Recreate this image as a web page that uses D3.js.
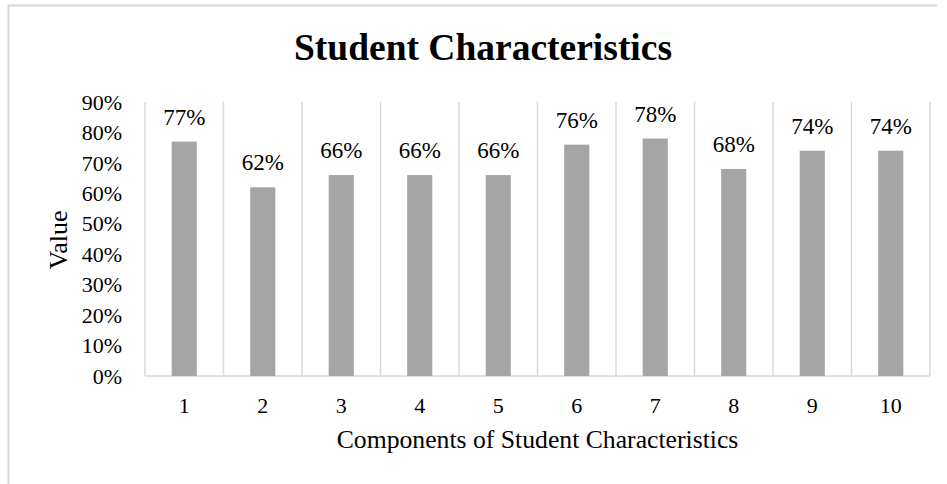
<!DOCTYPE html>
<html lang="en">
<head>
  <meta charset="UTF-8">
  <title>Student Characteristics</title>
  <script src="https://d3js.org/d3.v7.min.js"></script>
  <style>
    body { margin: 0; background: #fff; }
    text { font-family: "Liberation Serif", "Times New Roman", serif; fill: #000; }
  </style>
</head>
<body>
  <div id="chart"></div>
  <script>
  // chart values
  const categories = ['1', '2', '3', '4', '5', '6', '7', '8', '9', '10']
  const values = [0.77, 0.62, 0.66, 0.66, 0.66, 0.76, 0.78, 0.68, 0.74, 0.74]
  const yTicks = [0, 0.1, 0.2, 0.3, 0.4, 0.5, 0.6, 0.7, 0.8, 0.9]

  const W = 947, H = 484
  const plotL = 145, plotR = 930, plotT = 102, plotB = 376

  const svg = d3.select('#chart')
                .append('svg')
                .attr('width', W)
                .attr('height', H)

  // outer chart border (top + left visible)
  svg.append('path')
     .attr('d', `M8.5,${H + 5} V5.5 H937`)
     .attr('fill', 'none')
     .attr('stroke', '#d9d9d9')
     .attr('stroke-width', 2)

  const x = d3.scaleBand()
              .domain(categories)
              .range([plotL, plotR])
              .paddingInner(0.68)
              .paddingOuter(0.34)
  const y = d3.scaleLinear()
              .domain([0, 0.9])
              .range([plotB, plotT])

  // vertical gridlines at category boundaries
  const bounds = d3.range(categories.length + 1).map(i => plotL + i * x.step())
  svg.selectAll('line.grid')
     .data(bounds)
     .enter()
     .append('line')
     .attr('class', 'grid')
     .attr('x1', d => d).attr('x2', d => d)
     .attr('y1', plotT).attr('y2', plotB)
     .attr('stroke', '#d9d9d9')
     .attr('stroke-width', 1.5)

  // bottom axis line
  svg.append('line')
     .attr('x1', plotL).attr('x2', plotR)
     .attr('y1', plotB).attr('y2', plotB)
     .attr('stroke', '#d9d9d9')
     .attr('stroke-width', 1.5)

  // bars
  svg.selectAll('rect.bar')
     .data(values)
     .enter()
     .append('rect')
     .attr('class', 'bar')
     .attr('x', (d, i) => x(categories[i]))
     .attr('y', d => y(d))
     .attr('width', x.bandwidth())
     .attr('height', d => plotB - y(d))
     .attr('fill', '#a5a5a5')

  // data labels
  svg.selectAll('text.val')
     .data(values)
     .enter()
     .append('text')
     .attr('class', 'val')
     .attr('x', (d, i) => x(categories[i]) + x.bandwidth() / 2)
     .attr('y', d => y(d) - 17)
     .attr('text-anchor', 'middle')
     .style('font-size', '23px')
     .text(d => Math.round(d * 100) + '%')

  // y tick labels
  svg.selectAll('text.ytick')
     .data(yTicks)
     .enter()
     .append('text')
     .attr('class', 'ytick')
     .attr('x', 122)
     .attr('y', d => y(d))
     .attr('dy', '0.35em')
     .attr('text-anchor', 'end')
     .style('font-size', '22px')
     .text(d3.format('.0%'))

  // x tick labels
  svg.selectAll('text.xtick')
     .data(categories)
     .enter()
     .append('text')
     .attr('class', 'xtick')
     .attr('x', d => x(d) + x.bandwidth() / 2)
     .attr('y', 413)
     .attr('text-anchor', 'middle')
     .style('font-size', '22px')
     .text(d => d)

  // title
  svg.append('text')
     .attr('x', 483)
     .attr('y', 60)
     .attr('text-anchor', 'middle')
     .style('font-size', '37.5px')
     .style('font-weight', 'bold')
     .text('Student Characteristics')

  // axis titles
  svg.append('text')
     .attr('x', (plotL + plotR) / 2)
     .attr('y', 448)
     .attr('text-anchor', 'middle')
     .style('font-size', '25.7px')
     .text('Components of Student Characteristics')

  svg.append('text')
     .attr('transform', `translate(67, 240) rotate(-90)`)
     .attr('text-anchor', 'middle')
     .style('font-size', '26px')
     .text('Value')
  </script>
</body>
</html>
